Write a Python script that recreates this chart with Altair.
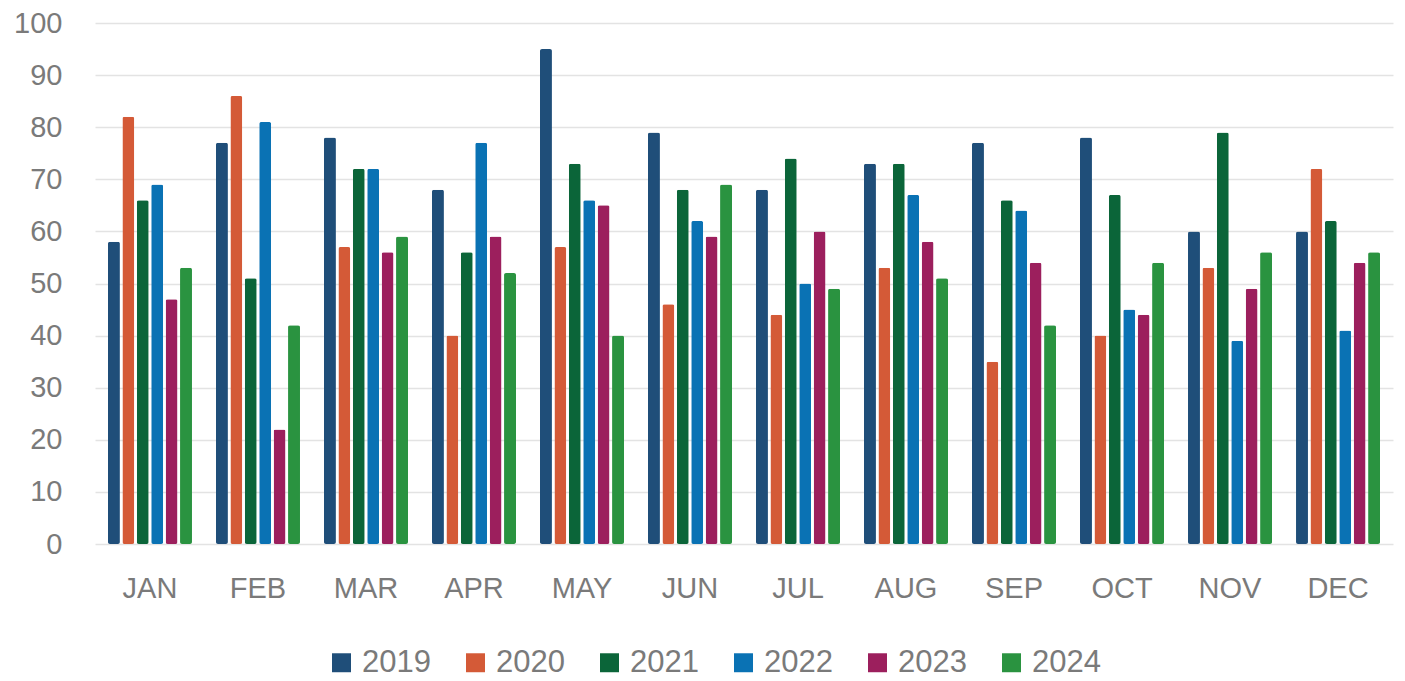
import altair as alt
import pandas as pd

months = ["JAN", "FEB", "MAR", "APR", "MAY", "JUN", "JUL", "AUG", "SEP", "OCT", "NOV", "DEC"]
years = ["2019", "2020", "2021", "2022", "2023", "2024"]
colors = ["#1f4e79", "#d45a37", "#0b6539", "#0a72b4", "#9c1f5d", "#2a9340"]

v2019 = [58, 77, 78, 68, 95, 79, 68, 73, 77, 78, 60, 60]
v2020 = [82, 86, 57, 40, 57, 46, 44, 53, 35, 40, 53, 72]
v2021 = [66, 51, 72, 56, 73, 68, 74, 73, 66, 67, 79, 62]
v2022 = [69, 81, 72, 77, 66, 62, 50, 67, 64, 45, 39, 41]
v2023 = [47, 22, 56, 59, 65, 59, 60, 58, 54, 44, 49, 54]
v2024 = [53, 42, 59, 52, 40, 69, 49, 51, 42, 54, 56, 56]

series = [v2019, v2020, v2021, v2022, v2023, v2024]
rows = []
for y, vals in zip(years, series):
    for m, v in zip(months, vals):
        rows.append({"month": m, "year": y, "value": v})
df = pd.DataFrame(rows)

FONT = "Liberation Sans"
GRAY = "#7a7a7a"

chart = alt.Chart(df).mark_bar(cornerRadius=2).encode(
    x=alt.X("month:N", sort=months, title=None,
            scale=alt.Scale(paddingInner=0.222, paddingOuter=0.12),
            axis=alt.Axis(labelAngle=0, ticks=False, domain=False, labelFontSize=29,
                          labelColor=GRAY, labelFont=FONT, labelPadding=30, grid=False)),
    xOffset=alt.XOffset("year:N", sort=years,
                        scale=alt.Scale(paddingInner=0.17, paddingOuter=0)),
    y=alt.Y("value:Q", title=None,
            scale=alt.Scale(domain=[0, 100], nice=False),
            axis=alt.Axis(values=list(range(0, 101, 10)), ticks=False, domain=False,
                          labelFontSize=29, labelColor=GRAY, labelFont=FONT,
                          labelPadding=33, gridColor="#e3e3e3", gridWidth=1.5)),
    color=alt.Color("year:N", sort=years, title=None,
                    scale=alt.Scale(domain=years, range=colors),
                    legend=alt.Legend(orient="none", direction="horizontal",
                                      legendX=231, legendY=624,
                                      symbolType="square", symbolSize=360,
                                      symbolStrokeWidth=0, labelFontSize=31,
                                      labelColor=GRAY, labelFont=FONT,
                                      labelOffset=5, columnPadding=29)),
).properties(
    width=1298, height=521,
    autosize=alt.AutoSizeParams(type="none"),
    padding={"left": 87, "top": 15, "right": 2, "bottom": 137},
).configure(background="white").configure_view(strokeWidth=0, stroke="transparent")

chart.save("out.html", embed_options={"renderer": "svg", "actions": False})
